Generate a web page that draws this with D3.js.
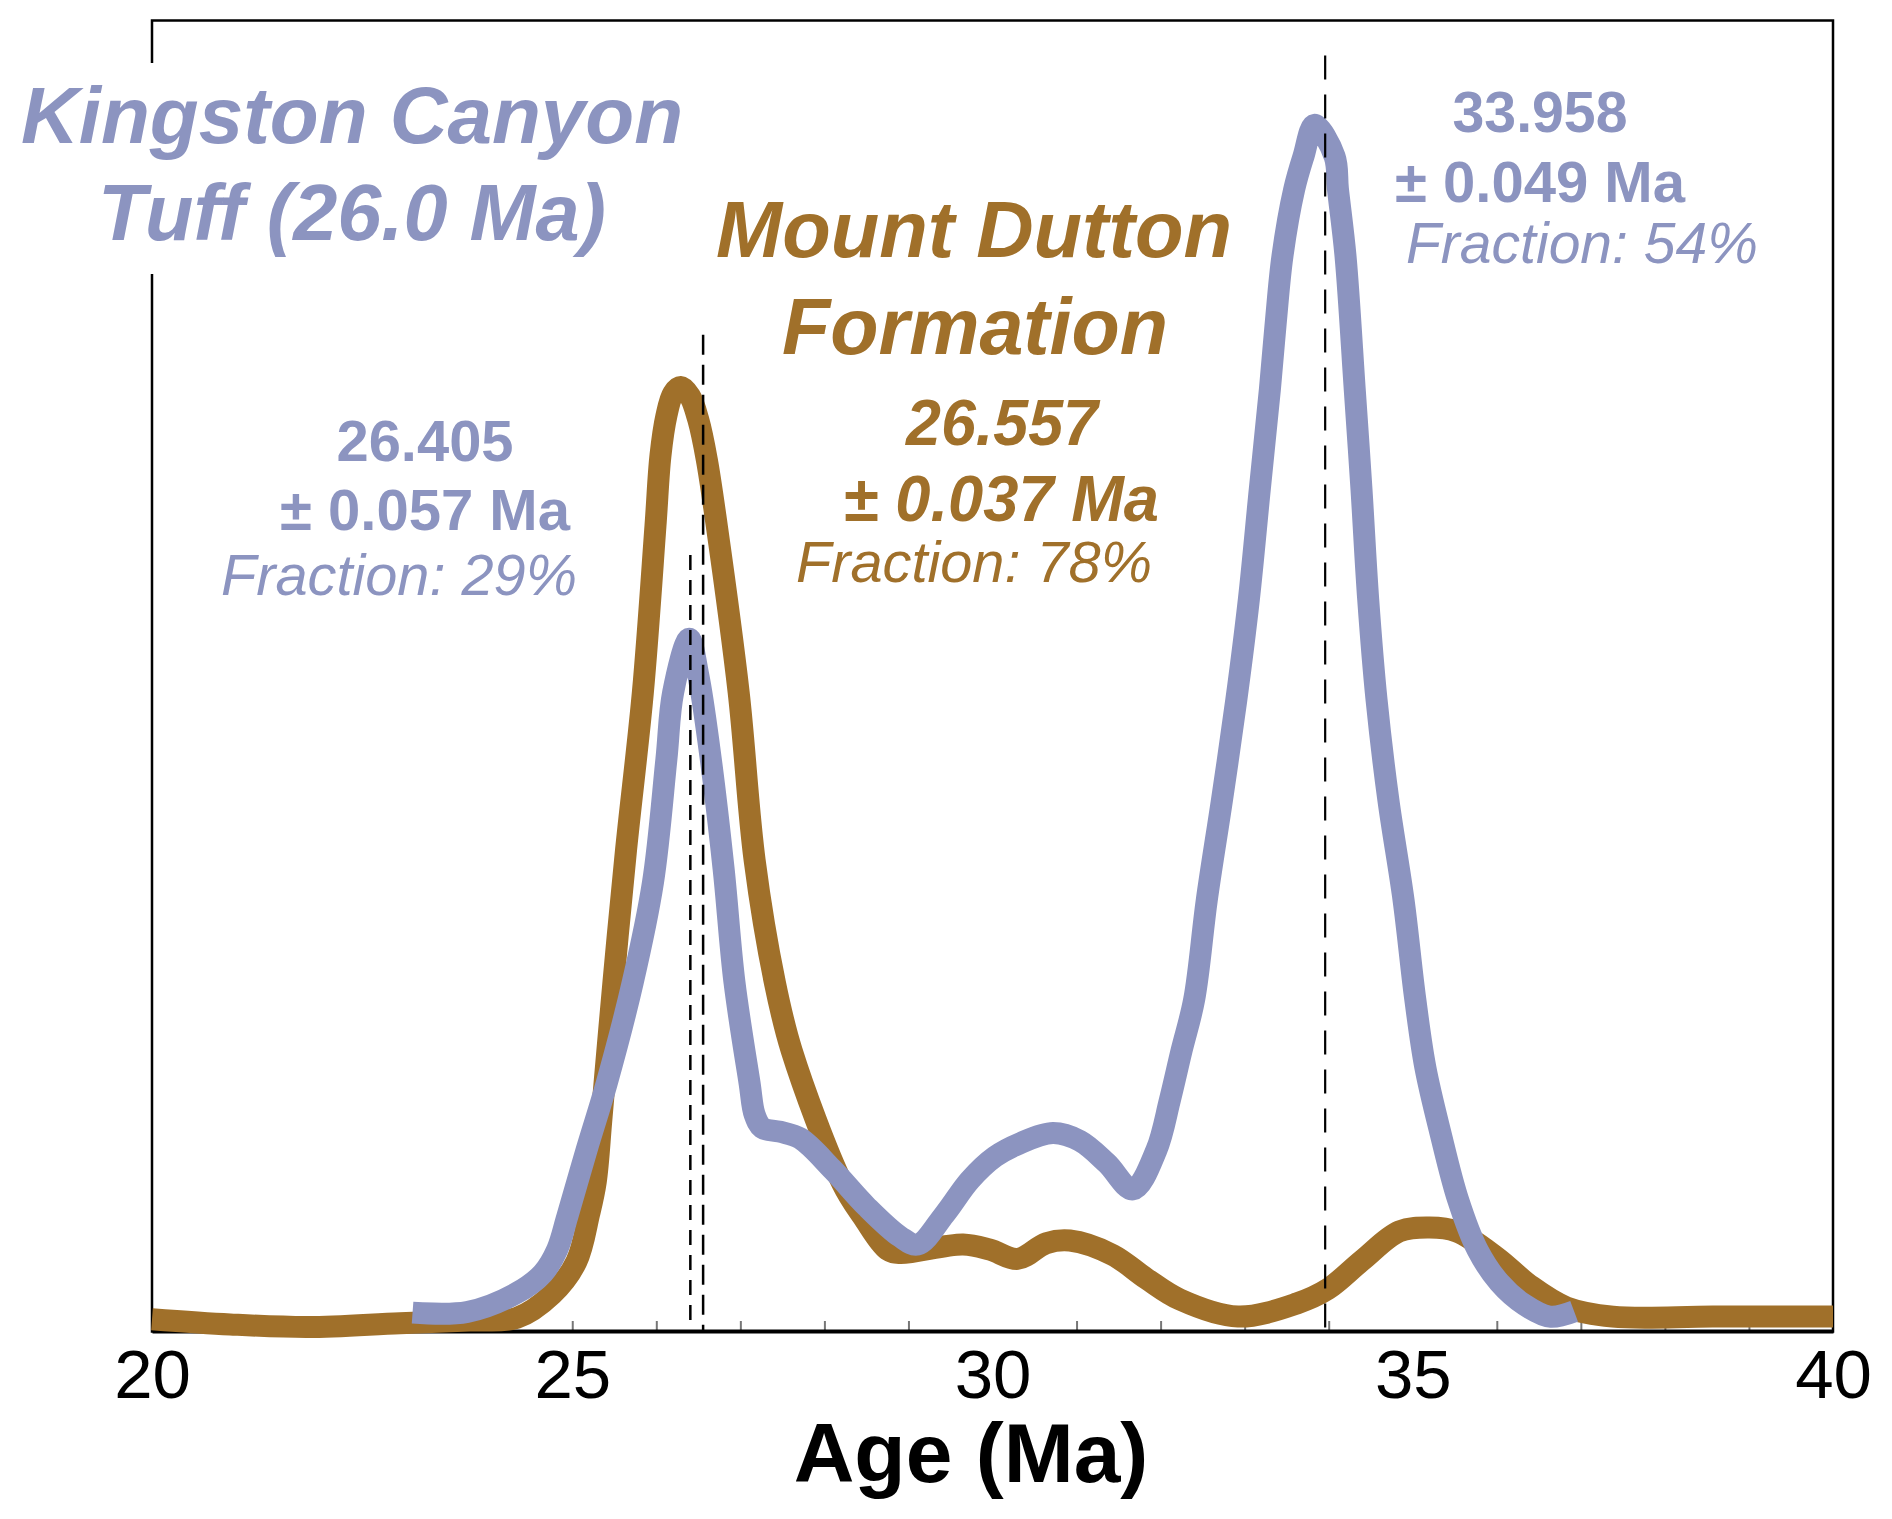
<!DOCTYPE html>
<html>
<head>
<meta charset="utf-8">
<script src="https://d3js.org/d3.v7.min.js"></script>
<style>
  body { margin: 0; background: #ffffff; }
</style>
</head>
<body>
<div id="chart"></div>
<script>
var svgWidth = 1892;
var svgHeight = 1519;

var margin = {
  top: 20,
  right: 59,
  bottom: 188,
  left: 152
};

var width = svgWidth - margin.left - margin.right;
var height = svgHeight - margin.top - margin.bottom;

// x axis ticks (Ma)
var majorTicks = [20, 25, 30, 35, 40];
var minorTicks = [21, 22, 23, 24, 25, 26, 27, 28, 29, 31, 32, 33, 34, 36, 37, 38, 39];

// Mount Dutton Formation probability curve (age in Ma, relative probability)
var duttonAge = [20.00, 20.93, 21.86, 22.95, 23.78, 24.34, 24.76, 25.05, 25.20, 25.28,
  25.35, 25.49, 25.64, 25.84, 25.99, 26.05, 26.12, 26.20, 26.29, 26.40,
  26.50, 26.60, 26.72, 26.98, 27.17, 27.41, 27.61, 28.21, 28.46, 28.75,
  28.90, 29.65, 29.97, 30.30, 30.64, 30.92, 31.43, 31.83, 32.23, 32.92,
  33.62, 33.99, 34.40, 34.84, 35.20, 35.52, 36.00, 36.39, 36.83, 37.38,
  38.57, 40.00];
var duttonProb = [0.9, 0.5, 0.3, 0.6, 0.8, 1.0, 2.8, 5.3, 8.9, 11.4,
  16.4, 26.6, 36.7, 48.7, 61.4, 66.8, 69.8, 71.5, 72.0, 71.3,
  69.5, 66.5, 61.4, 48.7, 35.9, 26.6, 21.4, 11.3, 8.7, 6.2,
  5.95, 6.6, 6.2, 5.5, 6.7, 6.9, 5.8, 4.0, 2.4, 1.1,
  2.1, 3.2, 5.4, 7.6, 7.9, 7.6, 5.6, 3.5, 1.8, 1.1,
  1.1, 1.1];

// Kingston Canyon Tuff probability curve
var kingstonAge = [23.10, 23.75, 24.34, 24.65, 24.82, 24.94, 25.17, 25.41, 25.72, 25.96,
  26.12, 26.20, 26.39, 26.50, 26.63, 26.80, 26.93, 27.11, 27.17, 27.26,
  27.47, 27.71, 28.10, 28.50, 28.90, 29.11, 29.43, 29.73, 30.03, 30.32,
  30.72, 31.04, 31.36, 31.67, 31.95, 32.11, 32.25, 32.40, 32.55, 32.73,
  32.90, 33.05, 33.18, 33.30, 33.37, 33.45, 33.59, 33.70, 33.83, 34.07,
  34.11, 34.20, 34.31, 34.39, 34.47, 34.57, 34.71, 34.89, 35.03, 35.15,
  35.33, 35.54, 35.77, 36.03, 36.33, 36.63, 36.92];
var kingstonProb = [1.4, 1.45, 2.9, 4.4, 6.2, 8.7, 13.8, 18.9, 26.6, 34.2,
  43.6, 48.7, 52.8, 50.0, 44.5, 35.3, 26.6, 18.9, 16.5, 15.5,
  15.2, 14.7, 12.3, 9.5, 7.2, 6.6, 8.9, 11.5, 13.3, 14.3,
  15.1, 14.5, 12.8, 10.8, 13.8, 17.6, 21.4, 25.3, 32.9, 40.5,
  48.1, 55.8, 64.2, 71.8, 76.9, 82.0, 87.1, 89.6, 92.0, 89.6,
  87.1, 82.0, 71.8, 64.2, 55.8, 48.1, 40.5, 32.9, 25.3, 20.1,
  15.1, 10.0, 6.2, 3.7, 2.0, 1.1, 1.5];

// peak ages marked by dashed lines, and how high each line reaches
var peakAges = [26.405, 26.557, 33.958];
var peakTops = [59.2, 76.0, 97.3];

// annotation texts
var kingstonTitle = ["Kingston Canyon", "Tuff (26.0 Ma)"];
var duttonTitle = ["Mount Dutton", "Formation"];
var kingstonPeak1 = ["26.405", "\u00b1 0.057 Ma", "Fraction: 29%"];
var kingstonPeak2 = ["33.958", "\u00b1 0.049 Ma", "Fraction: 54%"];
var duttonPeak = ["26.557", "\u00b1 0.037 Ma", "Fraction: 78%"];

var blue = "#8c94c0";
var brown = "#a0702a";
var fontFamily = "'Liberation Sans', Arial, Helvetica, sans-serif";

var svg = d3.select("#chart")
  .append("svg")
  .attr("width", svgWidth)
  .attr("height", svgHeight)
  .style("display", "block");

svg.append("rect")
  .attr("width", svgWidth)
  .attr("height", svgHeight)
  .attr("fill", "#ffffff");

var chartGroup = svg.append("g")
  .attr("transform", `translate(${margin.left}, ${margin.top})`);

var xScale = d3.scaleLinear()
  .domain([20, 40])
  .range([0, width]);

var yScale = d3.scaleLinear()
  .domain([0, 100])
  .range([height, 0]);

// frame
chartGroup.append("rect")
  .attr("x", 0)
  .attr("y", 0.5)
  .attr("width", width)
  .attr("height", height)
  .attr("fill", "none")
  .attr("stroke", "#000")
  .attr("stroke-width", 2.5);

// white box behind the Kingston Canyon title cuts the left frame line
svg.append("rect")
  .attr("x", 10)
  .attr("y", 63)
  .attr("width", 690)
  .attr("height", 211)
  .attr("fill", "#ffffff");

// minor ticks pointing up
var minorAxis = d3.axisBottom(xScale)
  .tickValues(minorTicks)
  .tickSizeInner(-10)
  .tickSizeOuter(0)
  .tickFormat("");

var minorG = chartGroup.append("g")
  .attr("transform", `translate(0, ${height})`)
  .call(minorAxis);
minorG.select(".domain").remove();
minorG.selectAll(".tick line")
  .attr("stroke", "#777")
  .attr("stroke-width", 2);

// bottom axis with labels
var bottomAxis = d3.axisBottom(xScale)
  .tickValues(majorTicks)
  .tickSize(0)
  .tickPadding(18)
  .tickFormat(d3.format("d"));

var axisG = chartGroup.append("g")
  .attr("transform", `translate(0, ${height})`)
  .call(bottomAxis);
axisG.select(".domain")
  .attr("stroke", "#000")
  .attr("stroke-width", 4);
axisG.selectAll(".tick text")
  .attr("font-family", fontFamily)
  .attr("font-size", 69)
  .attr("fill", "#000");

// x axis label
svg.append("text")
  .attr("x", 971)
  .attr("y", 1482)
  .attr("text-anchor", "middle")
  .attr("font-family", fontFamily)
  .attr("font-size", 84)
  .attr("font-weight", "bold")
  .attr("fill", "#000")
  .text("Age (Ma)");

// curves
var line = d3.line()
  .x(d => xScale(d[0]))
  .y(d => yScale(d[1]))
  .curve(d3.curveCatmullRom.alpha(0.5));

var duttonData = duttonAge.map((a, i) => [a, duttonProb[i]]);
var kingstonData = kingstonAge.map((a, i) => [a, kingstonProb[i]]);

chartGroup.append("path")
  .datum(duttonData)
  .attr("d", line)
  .attr("fill", "none")
  .attr("stroke", brown)
  .attr("stroke-width", 22)
  .attr("stroke-linejoin", "round");

chartGroup.append("path")
  .datum(kingstonData)
  .attr("d", line)
  .attr("fill", "none")
  .attr("stroke", blue)
  .attr("stroke-width", 22)
  .attr("stroke-linejoin", "round");

// dashed peak lines
var dashes = ["15,10", "20,10", "24,15"];
chartGroup.selectAll(".peak")
  .data(peakAges)
  .enter()
  .append("line")
  .attr("class", "peak")
  .attr("x1", d => xScale(d))
  .attr("x2", d => xScale(d))
  .attr("y1", (d, i) => yScale(peakTops[i]))
  .attr("y2", yScale(0))
  .attr("stroke", "#000")
  .attr("stroke-width", (d, i) => i < 2 ? 2.5 : 2.2)
  .attr("stroke-dasharray", (d, i) => dashes[i]);

// annotation helper
function label(x, y, str, size, weight, style, color, len) {
  svg.append("text")
    .attr("x", x)
    .attr("y", y)
    .attr("text-anchor", "middle")
    .attr("font-family", fontFamily)
    .attr("font-size", size)
    .attr("font-weight", weight)
    .attr("font-style", style)
    .attr("fill", color)
    .attr("textLength", len)
    .attr("lengthAdjust", "spacingAndGlyphs")
    .text(str);
}

label(352, 143, kingstonTitle[0], 80, "bold", "italic", blue, 662);
label(352, 240, kingstonTitle[1], 80, "bold", "italic", blue, 508);

label(974, 257, duttonTitle[0], 80, "bold", "italic", brown, 516);
label(975, 354, duttonTitle[1], 80, "bold", "italic", brown, 386);

label(1002, 445, duttonPeak[0], 64, "bold", "italic", brown, 192);
label(1001, 521, duttonPeak[1], 64, "bold", "italic", brown, 316);
label(974, 582, duttonPeak[2], 58, "normal", "italic", brown, 356);

label(425, 461, kingstonPeak1[0], 58, "bold", "normal", blue, 177);
label(425, 530, kingstonPeak1[1], 58, "bold", "normal", blue, 290);
label(399, 595, kingstonPeak1[2], 58, "normal", "italic", blue, 356);

label(1540, 132, kingstonPeak2[0], 58, "bold", "normal", blue, 175);
label(1540, 202, kingstonPeak2[1], 58, "bold", "normal", blue, 290);
label(1582, 263, kingstonPeak2[2], 58, "normal", "italic", blue, 352);
</script>
</body>
</html>
